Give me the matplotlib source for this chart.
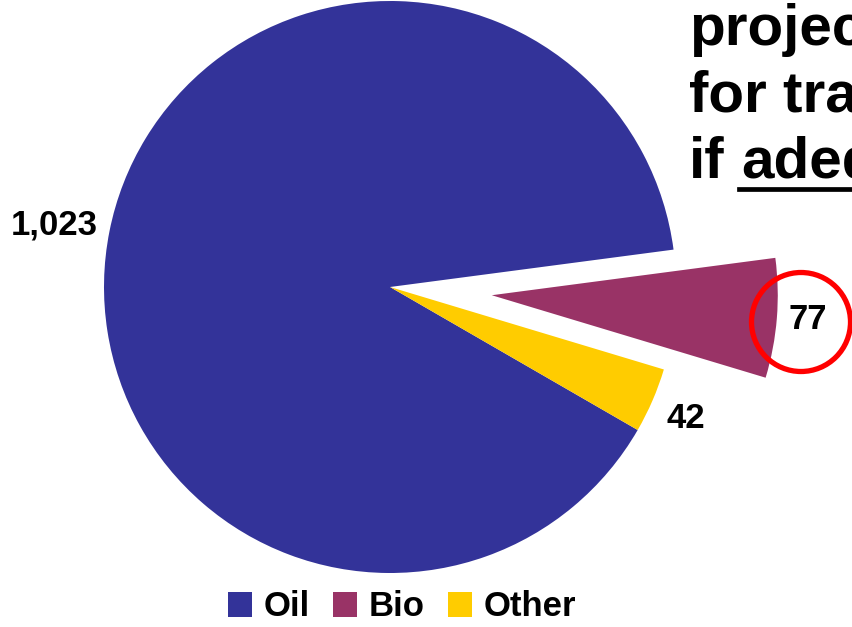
import numpy as np
import matplotlib.pyplot as plt
from matplotlib.patches import Circle

plt.rcParams["font.family"] = ["Liberation Sans", "DejaVu Sans"]

fuels = ["Oil", "Bio", "Other"]
amounts = [1023, 77, 42]
colors = ["#333399", "#993366", "#FFCC00"]
explode = [0, 0.357, 0]

headline = ["projected", "for transport", "if"]
underlined = "adequate"

W, H = 852, 627
fig = plt.figure(figsize=(W / 100, H / 100), dpi=100)
ax = fig.add_axes([0, 0, 1, 1])

wedges, texts = ax.pie(
    amounts,
    labels=[f"{v:,}" for v in amounts],
    colors=colors,
    explode=explode,
    startangle=330,
    counterclock=False,
    labeldistance=1.04,
    wedgeprops=dict(linewidth=0),
    textprops=dict(fontsize=25, fontweight="bold"),
)

# nudge the small-slice label a little further round and out
w = wedges[2]
ang = np.deg2rad((w.theta1 + w.theta2) / 2 - 2)
texts[2].set_position((1.07 * np.cos(ang), 1.07 * np.sin(ang)))
w = wedges[0]
ang = np.deg2rad((w.theta1 + w.theta2) / 2 - 0.8)
texts[0].set_position((1.045 * np.cos(ang), 1.045 * np.sin(ang)))

# pie radius = 286 px, centre at (390, 287) from the top-left
r = 286
cx, cy = 390, 287
ax.set_xlim(-cx / r, (W - cx) / r)
ax.set_ylim(-(H - cy) / r, cy / r)
ax.set_aspect("equal")

# highlight ring round the bio share
ax.add_patch(Circle(((801 - cx) / r, -(322 - cy) / r), 49.5 / r,
                    fill=False, ec="#FF0000", lw=3.8, zorder=5))

ax.legend(wedges, fuels, loc="center", bbox_to_anchor=(402 / W, 1 - 607 / H),
          bbox_transform=fig.transFigure, ncol=3, frameon=False,
          prop=dict(size=25, weight="bold"), handlelength=0.7,
          handleheight=0.7, handletextpad=0.33, columnspacing=0.66)

# headline text at the right, running off the edge
ys = [45, 112, 178]
txt = None
for s, y in zip(headline, ys):
    txt = fig.text(689 / W, 1 - y / H, s, fontsize=42, fontweight="bold",
                   ha="left", va="baseline")

fig.canvas.draw()
bb = txt.get_window_extent()
space = 0.278 * 42 * 100 / 72
x0 = bb.x1 + space
fig.text(x0 / W, 1 - 178 / H, underlined, fontsize=42,
         fontweight="bold", ha="left", va="baseline")
fig.add_artist(plt.Line2D([x0 / W - 0.002, 1.0], [1 - 189.5 / H] * 2,
                          color="black", lw=3.4, transform=fig.transFigure))

fig.savefig("out.png", dpi=100)
